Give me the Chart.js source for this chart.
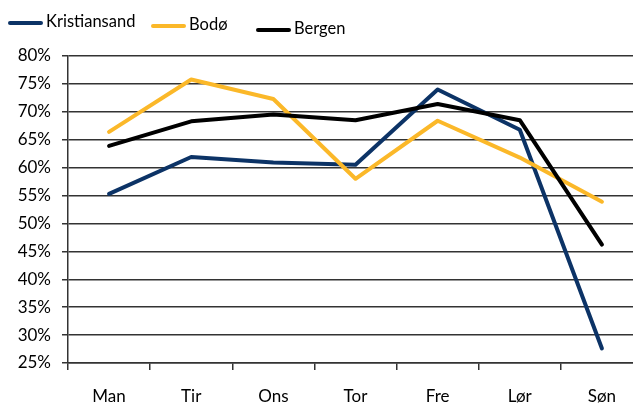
<!DOCTYPE html>
<html>
<head>
<meta charset="utf-8">
<script src="https://cdn.jsdelivr.net/npm/chart.js@4/dist/chart.umd.min.js"></script>
<style>
  html,body{margin:0;padding:0;overflow:hidden;background:#fff;}
  #wrap{position:relative;width:645px;height:404px;}
  .lg{position:absolute;font-family:Lato,"Open Sans",sans-serif;font-size:16.5px;color:#000;white-space:nowrap;line-height:20px;}
  .lg span{display:inline-block;width:35px;height:4px;border-radius:2px;vertical-align:middle;margin-right:3px;}
</style>
</head>
<body>
<div id="wrap">
  <canvas id="c" width="645" height="404"></canvas>
  <div id="legend"></div>
</div>
<script>
const days=['Man','Tir','Ons','Tor','Fre','Lør','Søn'];
const seriesNames=['Kristiansand','Bodø','Bergen'];
const kristiansand=[55.3,61.9,60.9,60.5,74.0,66.8,27.6];
const bodo=[66.4,75.8,72.3,58.0,68.4,61.8,53.9];
const bergen=[63.9,68.3,69.5,68.5,71.4,68.5,46.2];
const colors=['#0c3366','#fbb829','#000000'];

const values=[kristiansand,bodo,bergen];
const legendPos=[[8,11],[151,14],[256,18]];
const lg=document.getElementById('legend');
seriesNames.forEach((n,i)=>{
  const d=document.createElement('div'); d.className='lg';
  d.style.left=legendPos[i][0]+'px'; d.style.top=legendPos[i][1]+'px';
  d.innerHTML='<span style="background:'+colors[i]+'"></span>'+n;
  lg.appendChild(d);
});

new Chart(document.getElementById('c').getContext('2d'),{
  type:'line',
  data:{labels:days,datasets:seriesNames.map((n,i)=>({
    label:n,data:values[i],borderColor:colors[i],backgroundColor:colors[i],
    borderWidth:4,pointRadius:0,tension:0,borderCapStyle:'round',borderJoinStyle:'round',order:2-i
  }))},
  options:{
    responsive:false,animation:false,
    layout:{padding:{top:56,right:2,left:0,bottom:0}},
    plugins:{legend:{display:false},tooltip:{enabled:false}},
    scales:{
      x:{offset:true,
        grid:{offset:true,drawOnChartArea:false,drawTicks:true,tickLength:7,color:'#333',lineWidth:1.5},
        border:{color:'#333',width:1.5},
        ticks:{padding:16,color:'#000',font:{family:'Lato',size:17}},
        afterFit:s=>{s.height=41;}
      },
      y:{min:25,max:80,
        grid:{color:'#333',lineWidth:1.5,tickLength:6},
        border:{color:'#333',width:1.5},
        ticks:{stepSize:5,padding:11,color:'#000',font:{family:'Lato',size:17},callback:v=>v+'%'},
        afterFit:s=>{s.width=68;}
      }
    }
  }
});
</script>
</body>
</html>
